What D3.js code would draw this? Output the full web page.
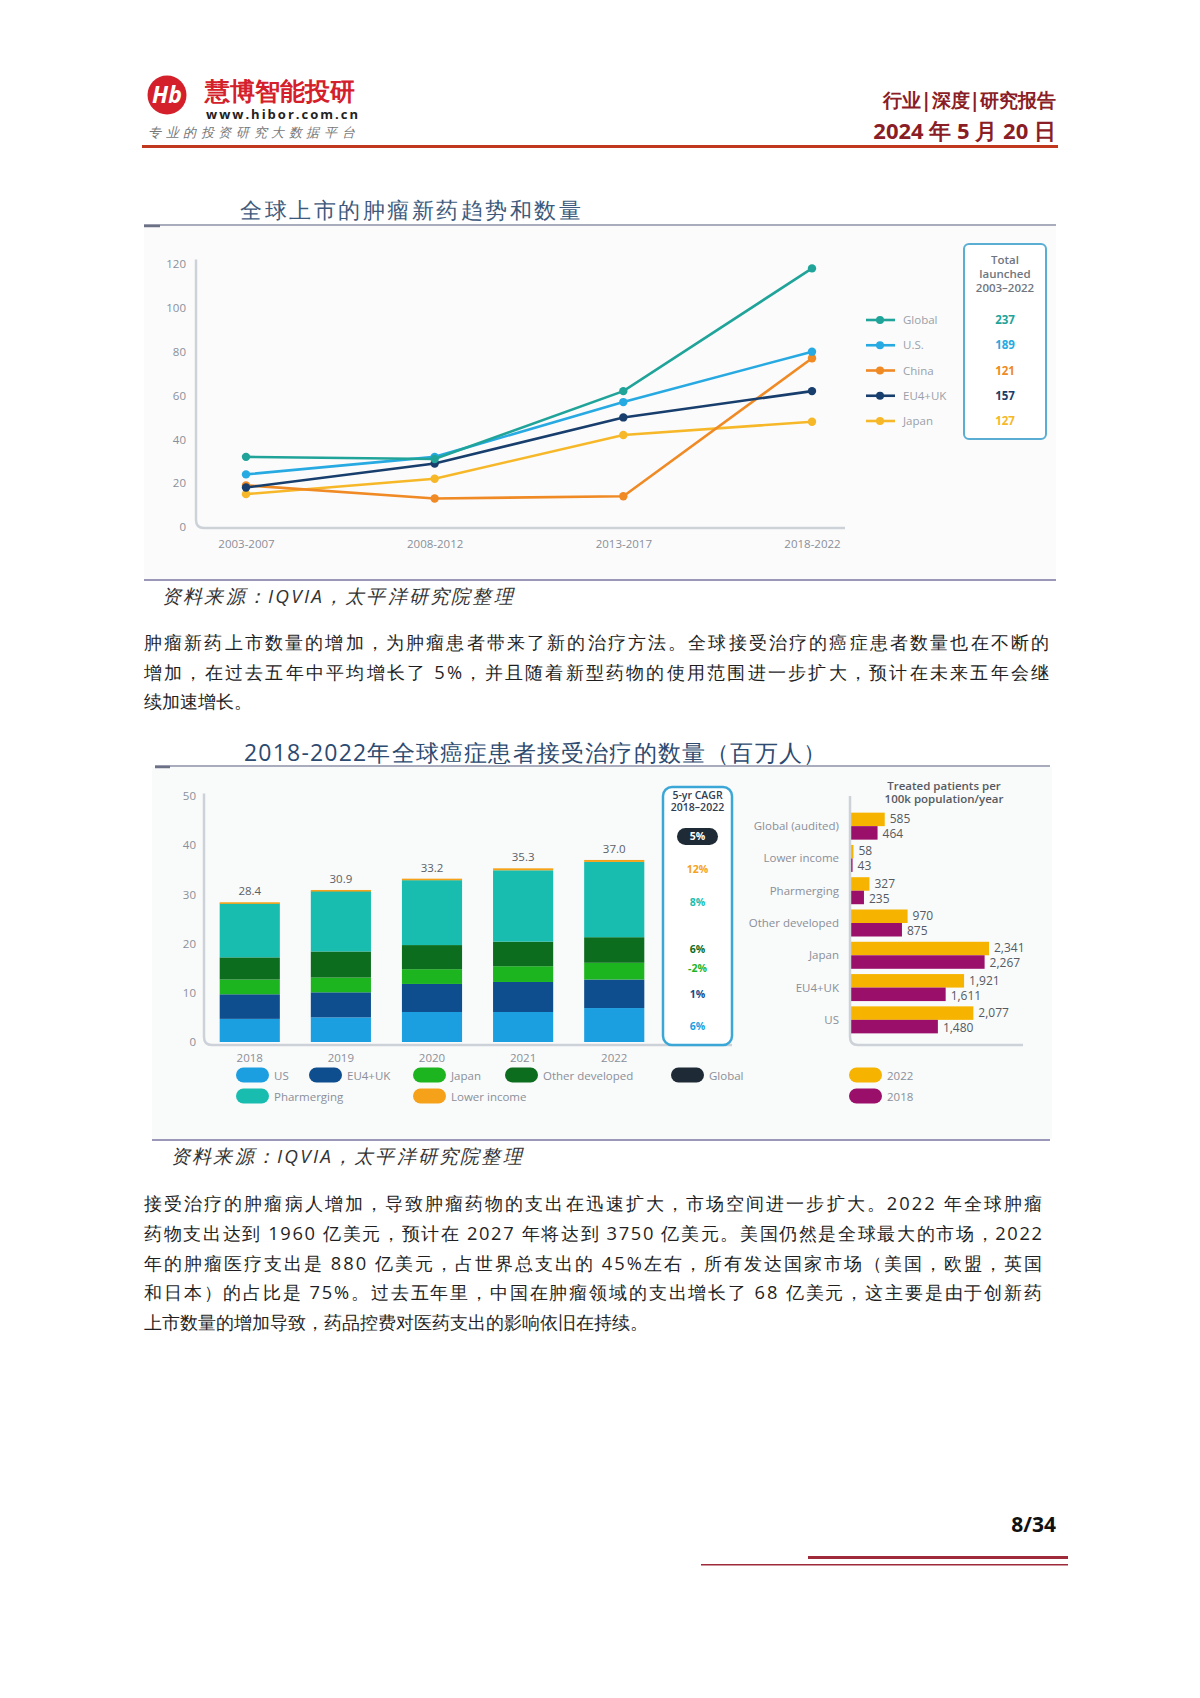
<!DOCTYPE html>
<html><head><meta charset="utf-8">
<script src="https://cdn.jsdelivr.net/npm/d3@7/dist/d3.min.js"></script>
<style>
body{margin:0;background:#fff;}
svg{display:block;}
text{font-family:"Open Sans","Noto Sans",sans-serif;}
</style></head>
<body>
<svg id="page" width="1200" height="1698"></svg>
<script>
// ---------- Chart 1 data ----------
const periods = ["2003-2007","2008-2012","2013-2017","2018-2022"];
const seriesNames = ["Global","U.S.","China","EU4+UK","Japan"];
const globalVals = [32, 31, 62, 118];
const usVals = [24, 32, 57, 80];
const chinaVals = [19, 13, 14, 77];
const eu4ukVals = [18, 29, 50, 62];
const japanVals = [15, 22, 42, 48];
const totalsLaunched = [237, 189, 121, 157, 127];
const yTicks1 = [0,20,40,60,80,100,120];

// ---------- Chart 2 data ----------
const years = ["2018","2019","2020","2021","2022"];
const segNames = ["US","EU4+UK","Japan","Other developed","Pharmerging","Lower income"];
const usSeg = [4.7, 5.0, 6.1, 6.1, 6.9];
const euSeg = [5.0, 5.1, 5.7, 6.1, 5.8];
const japanSeg = [3.0, 3.0, 3.0, 3.2, 3.4];
const otherDevSeg = [4.5, 5.3, 4.9, 5.0, 5.2];
const pharmSeg = [11.0, 12.3, 13.2, 14.5, 15.3];
const lowerSeg = [0.2, 0.2, 0.3, 0.4, 0.4];
const barTotals = ["28.4","30.9","33.2","35.3","37.0"];
const yTicks2 = [0,10,20,30,40,50];
const cagrLabels = ["5%","12%","8%","6%","-2%","1%","6%"];

// ---------- Chart 3 data ----------
const regions = ["Global (audited)","Lower income","Pharmerging","Other developed","Japan","EU4+UK","US"];
const treated2022 = [585, 58, 327, 970, 2341, 1921, 2077];
const treated2018 = [464, 43, 235, 875, 2267, 1611, 1480];
const treated2022Lbl = ["585","58","327","970","2,341","1,921","2,077"];
const treated2018Lbl = ["464","43","235","875","2,267","1,611","1,480"];

const svg = d3.select("#page");
svg.append("rect").attr("width",1200).attr("height",1698).attr("fill","#fff");

// ---------- Header ----------
const hdr = svg.append("g");
hdr.append("circle").attr("cx",167).attr("cy",95).attr("r",19.5).attr("fill","#d4202a");
hdr.append("text").attr("x",167).attr("y",103).attr("text-anchor","middle")
  .attr("font-family","Liberation Serif").attr("font-style","italic").attr("font-weight","bold")
  .attr("font-size",23).attr("fill","#fff").text("Hb");
hdr.append("text").attr("x",205).attr("y",100).attr("font-family","Noto Sans CJK SC").attr("font-weight","bold")
  .attr("font-size",24.5).attr("fill","#d4202a").text("慧博智能投研");
hdr.append("text").attr("x",206).attr("y",119).attr("font-family","Liberation Sans").attr("font-weight","bold")
  .attr("font-size",13).attr("letter-spacing",2.0).attr("fill","#222").text("www.hibor.com.cn");
hdr.append("text").attr("x",148).attr("y",137).attr("font-family","Noto Sans CJK SC")
  .attr("font-size",13).attr("letter-spacing",4.6).attr("fill","#777").attr("font-style","italic").text("专业的投资研究大数据平台");
hdr.append("text").attr("x",1056).attr("y",107).attr("text-anchor","end").attr("font-family","Noto Sans CJK SC")
  .attr("font-weight","bold").attr("font-size",19).attr("fill","#8a1d25").text("行业|深度|研究报告");
hdr.append("text").attr("x",1056).attr("y",139).attr("text-anchor","end").attr("font-family","Liberation Serif, Noto Sans CJK SC")
  .attr("font-weight","bold").attr("font-size",22).attr("fill","#8a1d25").text("2024 年 5 月 20 日");
hdr.append("rect").attr("x",142).attr("y",145).attr("width",916).attr("height",3).attr("fill","#c0391f");

// ---------- Chart 1 ----------
const c1 = svg.append("g");
c1.append("rect").attr("x",144).attr("y",226).attr("width",912).attr("height",353).attr("fill","#fbfbfc");
c1.append("text").attr("x",240).attr("y",218).attr("font-family","Noto Sans CJK SC").attr("font-size",22)
  .attr("letter-spacing",2.5).attr("fill","#3d5a7c").text("全球上市的肿瘤新药趋势和数量");
c1.append("line").attr("x1",144).attr("x2",1056).attr("y1",225).attr("y2",225).attr("stroke","#8d91a6").attr("stroke-width",1.3);
c1.append("line").attr("x1",144).attr("x2",160).attr("y1",226).attr("y2",226).attr("stroke","#6d7186").attr("stroke-width",2.5);
c1.append("line").attr("x1",144).attr("x2",1056).attr("y1",580).attr("y2",580).attr("stroke","#9b97b8").attr("stroke-width",2);

const x1 = d3.scalePoint().domain(periods).range([246, 812]);
const y1 = d3.scaleLinear().domain([0,120]).range([527, 264]);
const yAx1 = c1.append("g").attr("transform","translate(196,0)")
  .call(d3.axisLeft(y1).tickValues(yTicks1).tickSize(0).tickPadding(10));
yAx1.select(".domain").remove();
yAx1.selectAll("text").attr("font-size",11.5).attr("fill","#8a8f99");
const xAx1 = c1.append("g").attr("transform","translate(0,528)")
  .call(d3.axisBottom(x1).tickSize(0).tickPadding(12));
xAx1.select(".domain").remove();
xAx1.selectAll("text").attr("font-size",11.5).attr("fill","#8a8f99");
c1.append("path").attr("d","M196,"+y1(122)+" L196,520 Q196,528 204,528 L845,528")
  .attr("fill","none").attr("stroke","#cdd1d8").attr("stroke-width",2.5);

const seriesVals = [globalVals, usVals, chinaVals, eu4ukVals, japanVals];
const seriesCols = ["#20a49a","#27a9e1","#f08a24","#173e6c","#f6b828"];
const drawOrder = [4,2,3,1,0];
const line1 = d3.line().x((d,i)=>x1(periods[i])).y(d=>y1(d));
drawOrder.forEach(k=>{
  c1.append("path").datum(seriesVals[k]).attr("d",line1).attr("fill","none")
    .attr("stroke",seriesCols[k]).attr("stroke-width",2.6);
  c1.selectAll(null).data(seriesVals[k]).enter().append("circle")
    .attr("cx",(d,i)=>x1(periods[i])).attr("cy",d=>y1(d)).attr("r",4.2).attr("fill",seriesCols[k]);
});
// legend 1
c1.append("rect").attr("x",964).attr("y",244).attr("width",82).attr("height",195).attr("rx",5)
  .attr("fill","#fff").attr("stroke","#5aaed3").attr("stroke-width",2);
["Total","launched","2003–2022"].forEach((t,i)=>{
  c1.append("text").attr("x",1005).attr("y",264+i*14).attr("text-anchor","middle").attr("font-size",11.5)
    .attr("font-weight",600).attr("fill","#707680").text(t);
});
const legY1 = d3.scalePoint().domain(seriesNames).range([320, 421]);
seriesNames.forEach((n,i)=>{
  const yy = legY1(n);
  c1.append("line").attr("x1",866).attr("x2",895).attr("y1",yy).attr("y2",yy).attr("stroke",seriesCols[i]).attr("stroke-width",2.6);
  c1.append("circle").attr("cx",880).attr("cy",yy).attr("r",4).attr("fill",seriesCols[i]);
  c1.append("text").attr("x",903).attr("y",yy+4).attr("font-size",11.5).attr("fill","#9aa0a8").text(n);
  c1.append("text").attr("x",1005).attr("y",yy+4).attr("text-anchor","middle").attr("font-size",11.5)
    .attr("font-weight","bold").attr("fill",seriesCols[i]).text(totalsLaunched[i]);
});

// Source 1
svg.append("text").attr("x",162).attr("y",603).attr("font-family","Liberation Sans, Noto Sans CJK SC")
  .attr("font-style","italic").attr("font-size",19).attr("letter-spacing",2.2).attr("fill","#333").text("资料来源：IQVIA，太平洋研究院整理");

// ---------- Paragraphs ----------
const para1 = [
 "肿瘤新药上市数量的增加，为肿瘤患者带来了新的治疗方法。全球接受治疗的癌症患者数量也在不断的",
 "增加，在过去五年中平均增长了 5%，并且随着新型药物的使用范围进一步扩大，预计在未来五年会继",
 "续加速增长。"];
const para2 = [
 "接受治疗的肿瘤病人增加，导致肿瘤药物的支出在迅速扩大，市场空间进一步扩大。2022 年全球肿瘤",
 "药物支出达到 1960 亿美元，预计在 2027 年将达到 3750 亿美元。美国仍然是全球最大的市场，2022",
 "年的肿瘤医疗支出是 880 亿美元，占世界总支出的 45%左右，所有发达国家市场（美国，欧盟，英国",
 "和日本）的占比是 75%。过去五年里，中国在肿瘤领域的支出增长了 68 亿美元，这主要是由于创新药",
 "上市数量的增加导致，药品控费对医药支出的影响依旧在持续。"];
function drawPara(lines, y0, dy, width){
  lines.forEach((t,i)=>{
    const tx = svg.append("text").attr("x",144).attr("y",y0+i*dy)
      .attr("font-family","Liberation Serif, Noto Sans CJK SC").attr("font-size",18.3).attr("fill","#1f1f1f").text(t);
    if(i<lines.length-1){ tx.attr("textLength",width).attr("lengthAdjust","spacing"); }
  });
}
drawPara(para1, 649, 29.5, 905);
drawPara(para2, 1210, 29.8, 898);

// ---------- Chart 2 ----------
const c2 = svg.append("g");
c2.append("rect").attr("x",152).attr("y",767).attr("width",900).attr("height",372).attr("fill","#f9fafa");
c2.append("text").attr("x",244).attr("y",761).attr("font-family","Noto Sans CJK SC").attr("font-size",23)
  .attr("letter-spacing",1.2).attr("fill","#2d4a70").text("2018-2022年全球癌症患者接受治疗的数量（百万人）");
c2.append("line").attr("x1",155).attr("x2",1050).attr("y1",766).attr("y2",766).attr("stroke","#8d91a6").attr("stroke-width",1.3);
c2.append("line").attr("x1",155).attr("x2",170).attr("y1",767).attr("y2",767).attr("stroke","#6d7186").attr("stroke-width",2.5);
c2.append("line").attr("x1",152).attr("x2",1050).attr("y1",1140).attr("y2",1140).attr("stroke","#9b97b8").attr("stroke-width",2);

const x2 = d3.scaleBand().domain(years).range([196,668]).paddingInner(0.34).paddingOuter(0.26);
const y2 = d3.scaleLinear().domain([0,50]).range([1042, 796]);
const yAx2 = c2.append("g").attr("transform","translate(204,0)")
  .call(d3.axisLeft(y2).tickValues(yTicks2).tickSize(0).tickPadding(8));
yAx2.select(".domain").remove();
yAx2.selectAll("text").attr("font-size",11.5).attr("fill","#8a8f99");
const xAx2 = c2.append("g").attr("transform","translate(0,1044)")
  .call(d3.axisBottom(x2).tickSize(0).tickPadding(10));
xAx2.select(".domain").remove();
xAx2.selectAll("text").attr("font-size",11.5).attr("fill","#8a8f99");

const segCols = ["#1c9fe0","#0f4e8e","#1db51f","#0c6d1e","#18bdb0","#f5a21a"];
const table = years.map((yr,i)=>({year:yr, "US":usSeg[i], "EU4+UK":euSeg[i], "Japan":japanSeg[i],
  "Other developed":otherDevSeg[i], "Pharmerging":pharmSeg[i], "Lower income":lowerSeg[i]}));
const stacked = d3.stack().keys(segNames)(table);
stacked.forEach((layer,k)=>{
  c2.selectAll(null).data(layer).enter().append("rect")
    .attr("x",d=>x2(d.data.year)).attr("width",x2.bandwidth())
    .attr("y",d=>y2(d[1])).attr("height",d=>Math.max(y2(d[0])-y2(d[1]), k===5?1.6:0))
    .attr("fill",segCols[k]);
});
c2.selectAll(null).data(table).enter().append("text")
  .attr("x",d=>x2(d.year)+x2.bandwidth()/2)
  .attr("y",(d,i)=>y2(d3.sum(segNames,k=>d[k]))-7)
  .attr("text-anchor","middle").attr("font-size",11.5).attr("fill","#5b6068")
  .text((d,i)=>barTotals[i]);
c2.append("path").attr("d","M204,"+y2(50.5)+" L204,1037 Q204,1045 212,1045 L732,1045")
  .attr("fill","none").attr("stroke","#cdd1d8").attr("stroke-width",2.5);

// CAGR box
c2.append("rect").attr("x",663).attr("y",787).attr("width",69).attr("height",258).attr("rx",9)
  .attr("fill","#fff").attr("stroke","#3ba7d6").attr("stroke-width",2.5);
["5-yr CAGR","2018–2022"].forEach((t,i)=>{
  c2.append("text").attr("x",697.5).attr("y",799+i*12).attr("text-anchor","middle").attr("font-size",10.5)
    .attr("font-weight",600).attr("fill","#2f3d52").text(t);
});
const cagrY = [836, 869, 902, 949, 968, 994, 1026];
const cagrCols = ["#fff","#f5a21a","#18bdb0","#0c6d1e","#1db51f","#0f4e8e","#1c9fe0"];
c2.append("rect").attr("x",677).attr("y",828).attr("width",41).attr("height",17).attr("rx",8.5).attr("fill","#1e2b36");
cagrLabels.forEach((t,i)=>{
  c2.append("text").attr("x",697.5).attr("y",cagrY[i]+4).attr("text-anchor","middle").attr("font-size",10.5)
    .attr("font-weight","bold").attr("fill",cagrCols[i]).text(t);
});

// Horizontal bars
["Treated patients per","100k population/year"].forEach((t,i)=>{
  c2.append("text").attr("x",944).attr("y",790+i*13).attr("text-anchor","middle").attr("font-size",11.5)
    .attr("font-weight",600).attr("fill","#555a62").text(t);
});
const xh = d3.scaleLinear().domain([0,2341]).range([850, 989]);
const yh = d3.scaleBand().domain(regions).range([810, 1036]);
regions.forEach((r,i)=>{
  const cy = yh(r)+yh.bandwidth()/2;
  c2.append("text").attr("x",839).attr("y",cy+4).attr("text-anchor","end").attr("font-size",11.5)
    .attr("fill","#8a8f99").text(r);
  c2.append("rect").attr("x",xh(0)).attr("y",cy-13.5).attr("width",xh(treated2022[i])-xh(0)).attr("height",13.5).attr("fill","#f6b400");
  c2.append("rect").attr("x",xh(0)).attr("y",cy).attr("width",xh(treated2018[i])-xh(0)).attr("height",13.5).attr("fill","#990f6a");
  c2.append("text").attr("x",xh(treated2022[i])+5).attr("y",cy-3).attr("font-size",12).attr("fill","#555a62").text(treated2022Lbl[i]);
  c2.append("text").attr("x",xh(treated2018[i])+5).attr("y",cy+12).attr("font-size",12).attr("fill","#555a62").text(treated2018Lbl[i]);
});
c2.append("path").attr("d","M850,796 L850,1037 Q850,1045 858,1045 L1023,1045")
  .attr("fill","none").attr("stroke","#cdd1d8").attr("stroke-width",2.5);

// Legend 2
const leg2 = [
  {n:"US", c:segCols[0], x:236, y:1075},
  {n:"EU4+UK", c:segCols[1], x:309, y:1075},
  {n:"Japan", c:segCols[2], x:413, y:1075},
  {n:"Other developed", c:segCols[3], x:505, y:1075},
  {n:"Global", c:"#1e2b36", x:671, y:1075},
  {n:"Pharmerging", c:segCols[4], x:236, y:1096},
  {n:"Lower income", c:segCols[5], x:413, y:1096},
  {n:"2022", c:"#f6b400", x:849, y:1075},
  {n:"2018", c:"#990f6a", x:849, y:1096}
];
leg2.forEach(d=>{
  c2.append("rect").attr("x",d.x).attr("y",d.y-7.5).attr("width",33).attr("height",15).attr("rx",7.5).attr("fill",d.c);
  c2.append("text").attr("x",d.x+38).attr("y",d.y+4.5).attr("font-size",11.5).attr("fill","#8a8f99").text(d.n);
});

// Source 2
svg.append("text").attr("x",171).attr("y",1163).attr("font-family","Liberation Sans, Noto Sans CJK SC")
  .attr("font-style","italic").attr("font-size",19).attr("letter-spacing",2.2).attr("fill","#333").text("资料来源：IQVIA，太平洋研究院整理");

// ---------- Footer ----------
svg.append("text").attr("x",1056).attr("y",1532).attr("text-anchor","end").attr("font-family","Liberation Serif")
  .attr("font-weight","bold").attr("font-size",21).attr("fill","#111").text("8/34");
svg.append("rect").attr("x",808).attr("y",1556).attr("width",260).attr("height",3).attr("fill","#9e2a3a");
svg.append("rect").attr("x",701).attr("y",1564).attr("width",367).attr("height",1.5).attr("fill","#9e2a3a");
</script>
</body></html>
